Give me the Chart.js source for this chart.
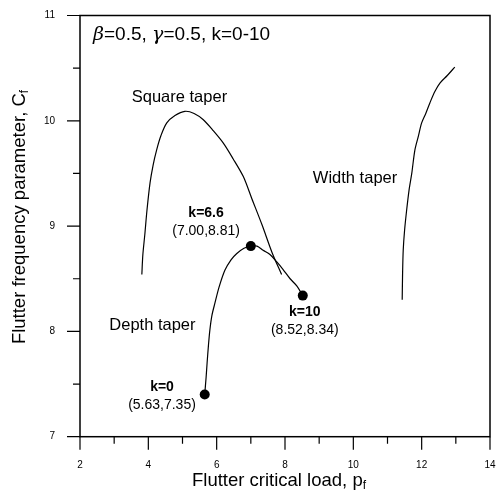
<!DOCTYPE html>
<html>
<head>
<meta charset="utf-8">
<script src="https://cdn.jsdelivr.net/npm/chart.js@4.4.1/dist/chart.umd.min.js"></script>
<style>
  html,body{margin:0;padding:0;background:#fff;}
  #c{display:block;}
</style>
</head>
<body>
<canvas id="c" width="500" height="492"></canvas>
<script>
// ---- data ----
const squareX = [3.81, 3.84, 3.90, 3.96, 4.05, 4.14, 4.24, 4.37, 4.54, 4.78, 5.07, 5.34, 5.61, 5.89, 6.19, 6.48, 6.78, 7.03, 7.33, 7.62, 7.90];
const squareY = [8.54, 8.73, 8.93, 9.15, 9.41, 9.58, 9.72, 9.86, 9.98, 10.05, 10.09, 10.07, 10.01, 9.91, 9.79, 9.64, 9.47, 9.26, 9.01, 8.75, 8.54];

const depthX = [5.65, 5.69, 5.72, 5.76, 5.80, 5.86, 5.95, 6.07, 6.24, 6.42, 6.59, 6.80, 7.00, 7.18, 7.36, 7.56, 7.76, 7.94, 8.15, 8.35, 8.52];
const depthY = [7.40, 7.56, 7.70, 7.87, 8.01, 8.15, 8.27, 8.42, 8.58, 8.68, 8.74, 8.79, 8.81, 8.81, 8.77, 8.73, 8.66, 8.59, 8.50, 8.43, 8.34];

const widthX = [11.43, 11.44, 11.46, 11.50, 11.56, 11.63, 11.71, 11.80, 11.90, 12.00, 12.12, 12.24, 12.39, 12.54, 12.75, 12.97];
const widthY = [8.30, 8.52, 8.77, 8.96, 9.15, 9.34, 9.50, 9.72, 9.85, 9.98, 10.07, 10.17, 10.28, 10.36, 10.43, 10.51];

const markerX = [5.65, 7.00, 8.52];
const markerY = [7.40, 8.81, 8.34];

const xMajorTicks = [2, 4, 6, 8, 10, 12, 14];
const yMajorTicks = [7, 8, 9, 10, 11];

const curveNames = ['Square taper', 'Width taper', 'Depth taper'];
const markerLabels = ['k=0', 'k=6.6', 'k=10'];
const markerCoords = ['(5.63,7.35)', '(7.00,8.81)', '(8.52,8.34)'];
const headerText = ['β', '=0.5, ', 'γ', '=0.5, k=0-10'];

const toPts = (xs, ys) => xs.map((x, i) => ({x: x, y: ys[i]}));

// label anchor places (data coordinates), kept apart from the values
const curveNamePos = [[4.91, 10.22], [10.05, 9.45], [4.12, 8.06]];
const markerLabelPos = [[4.40, 7.47, 7.30], [5.69, 9.12, 8.95], [8.58, 8.18, 8.01]];

const FONT = '"Liberation Sans", Arial, sans-serif';

const framePlugin = {
  id: 'frame',
  afterDraw(chart) {
    const {ctx, chartArea: a, scales: {x, y}} = chart;
    ctx.save();
    ctx.strokeStyle = '#000';
    ctx.lineWidth = 1.5;
    ctx.strokeRect(a.left, a.top, a.right - a.left, a.bottom - a.top);
    // ticks (outward)
    ctx.lineWidth = 1.2;
    ctx.beginPath();
    x.ticks.forEach(t => {
      const px = x.getPixelForValue(t.value);
      const len = xMajorTicks.includes(t.value) ? 13 : 7;
      ctx.moveTo(px, a.bottom);
      ctx.lineTo(px, a.bottom + len);
    });
    y.ticks.forEach(t => {
      const py = y.getPixelForValue(t.value);
      const len = yMajorTicks.includes(t.value) ? 13 : 7;
      ctx.moveTo(a.left, py);
      ctx.lineTo(a.left - len, py);
    });
    ctx.stroke();

    ctx.fillStyle = '#000';
    // tick labels
    ctx.font = '10px ' + FONT;
    ctx.textAlign = 'center';
    ctx.textBaseline = 'middle';
    xMajorTicks.forEach(v => ctx.fillText(String(v), x.getPixelForValue(v), a.bottom + 29));
    ctx.textAlign = 'right';
    yMajorTicks.forEach(v => ctx.fillText(String(v), a.left - 25, y.getPixelForValue(v)));

    // curve names
    ctx.font = '16.5px ' + FONT;
    ctx.textAlign = 'center';
    ctx.textBaseline = 'middle';
    curveNames.forEach((n, i) => {
      ctx.fillText(n, x.getPixelForValue(curveNamePos[i][0]), y.getPixelForValue(curveNamePos[i][1]));
    });
    // marker labels
    markerLabels.forEach((n, i) => {
      const px = x.getPixelForValue(markerLabelPos[i][0]);
      ctx.font = 'bold 14px ' + FONT;
      ctx.fillText(n, px, y.getPixelForValue(markerLabelPos[i][1]));
      ctx.font = '14px ' + FONT;
      ctx.fillText(markerCoords[i], px, y.getPixelForValue(markerLabelPos[i][2]));
    });

    // header
    ctx.textAlign = 'left';
    ctx.textBaseline = 'alphabetic';
    let hx = 93;
    const hy = 40;
    headerText.forEach((t, i) => {
      ctx.font = (i % 2 === 0 ? 'italic 19px "DejaVu Serif", serif' : '19px ' + FONT);
      ctx.fillText(t, hx, hy);
      hx += ctx.measureText(t).width;
    });

    // x title with subscript
    ctx.font = '18.5px ' + FONT;
    const xt = 'Flutter critical load, p';
    const xw = ctx.measureText(xt).width;
    ctx.font = '12px ' + FONT;
    const sw = ctx.measureText('f').width;
    let tx = 279 - (xw + sw) / 2;
    ctx.font = '18.5px ' + FONT;
    ctx.fillText(xt, tx, 486);
    ctx.font = '12px ' + FONT;
    ctx.fillText('f', tx + xw, 489);

    // y title rotated
    ctx.save();
    ctx.translate(25, 217);
    ctx.rotate(-Math.PI / 2);
    ctx.font = '18.5px ' + FONT;
    const yt = 'Flutter frequency parameter, C';
    const yw = ctx.measureText(yt).width;
    ctx.font = '12px ' + FONT;
    const sw2 = ctx.measureText('f').width;
    const sx = -(yw + sw2) / 2;
    ctx.font = '18.5px ' + FONT;
    ctx.fillText(yt, sx, 0);
    ctx.font = '12px ' + FONT;
    ctx.fillText('f', sx + yw, 3);
    ctx.restore();

    ctx.restore();
  }
};

const lineDs = (pts) => ({
  data: pts, showLine: true, borderColor: '#000', borderWidth: 1.2,
  pointRadius: 0, tension: 0.3, fill: false
});

new Chart(document.getElementById('c'), {
  type: 'scatter',
  data: {
    datasets: [
      lineDs(toPts(squareX, squareY)),
      lineDs(toPts(depthX, depthY)),
      lineDs(toPts(widthX, widthY)),
      {
        data: toPts(markerX, markerY), showLine: false,
        pointRadius: 5, pointBackgroundColor: '#000', pointBorderColor: '#000', pointBorderWidth: 0
      }
    ]
  },
  options: {
    responsive: false,
    animation: false,
    devicePixelRatio: 1,
    layout: {autoPadding: false, padding: {top: 15.5, right: 10, left: 0, bottom: 0}},
    plugins: {legend: {display: false}, tooltip: {enabled: false}},
    scales: {
      x: {
        type: 'linear', min: 2, max: 14,
        afterFit(s) { s.height = 55.3; s.paddingLeft = 0; s.paddingRight = 0; },
        grid: {display: false, drawTicks: false},
        border: {display: false},
        ticks: {display: false, stepSize: 1, autoSkip: false, maxRotation: 0}
      },
      y: {
        type: 'linear', min: 7, max: 11,
        afterFit(s) { s.width = 80; s.paddingTop = 0; s.paddingBottom = 0; },
        grid: {display: false, drawTicks: false},
        border: {display: false},
        ticks: {display: false, stepSize: 0.5, autoSkip: false}
      }
    }
  },
  plugins: [framePlugin]
});
</script>
</body>
</html>
